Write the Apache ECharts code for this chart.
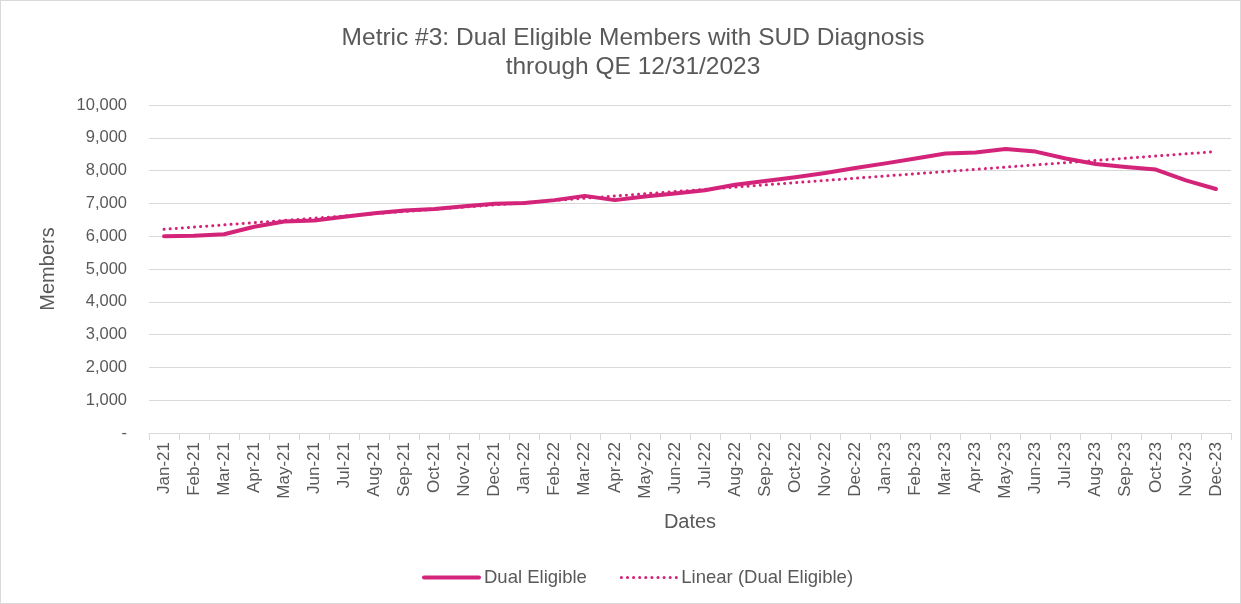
<!DOCTYPE html>
<html>
<head>
<meta charset="utf-8">
<script src="https://cdn.jsdelivr.net/npm/echarts@6/dist/echarts.min.js"></script>
<style>
    html, body { margin: 0; padding: 0; background: #fff; }
    #chart {
        width: 1241px;
        height: 604px;
        box-sizing: border-box;
        border: 1px solid #d9d9d9;
    }
</style>
</head>
<body>
<div id="chart"></div>
<script>
    // monthly member counts
    var months = ['Jan-21', 'Feb-21', 'Mar-21', 'Apr-21', 'May-21', 'Jun-21', 'Jul-21', 'Aug-21', 'Sep-21', 'Oct-21', 'Nov-21', 'Dec-21',
                  'Jan-22', 'Feb-22', 'Mar-22', 'Apr-22', 'May-22', 'Jun-22', 'Jul-22', 'Aug-22', 'Sep-22', 'Oct-22', 'Nov-22', 'Dec-22',
                  'Jan-23', 'Feb-23', 'Mar-23', 'Apr-23', 'May-23', 'Jun-23', 'Jul-23', 'Aug-23', 'Sep-23', 'Oct-23', 'Nov-23', 'Dec-23'];
    var dualEligible = [6000, 6010, 6060, 6290, 6450, 6480, 6590, 6700, 6780, 6830, 6910, 6990,
                        7010, 7100, 7230, 7100, 7210, 7300, 7400, 7570, 7680, 7800, 7930, 8080,
                        8220, 8370, 8520, 8550, 8660, 8580, 8370, 8200, 8110, 8030, 7700, 7440];
    // trendline ends (first and last month) as drawn in the picture
    var trendEnds = [6210, 8580];

    var trend = months.map(function (m, i) {
        if (i === 0) return trendEnds[0];
        if (i === months.length - 1) return trendEnds[1];
        return null;
    });

    var pink = '#d4247a';
    var grey = '#595959';

    var chart = echarts.init(document.getElementById('chart'));
    chart.setOption({
        animation: false,
        textStyle: { fontFamily: 'Liberation Sans, Arial, sans-serif' },
        title: {
            text: 'Metric #3: Dual Eligible Members with SUD Diagnosis\nthrough QE 12/31/2023',
            left: 627,
            textAlign: 'center',
            top: 18,
            textStyle: { fontSize: 24.5, fontWeight: 'normal', color: grey, lineHeight: 29 }
        },
        legend: {
            bottom: 11,
            left: 416,
            itemWidth: 55,
            itemHeight: 14,
            itemGap: 33,
            itemStyle: { opacity: 0 },
            textStyle: { fontSize: 18.5, color: grey },
            data: [
                { name: 'Dual Eligible', lineStyle: { width: 4 } },
                { name: 'Linear (Dual Eligible)', lineStyle: { width: 3 } }
            ]
        },
        grid: { left: 148, right: 9, top: 104, bottom: 170 },
        xAxis: {
            type: 'category',
            data: months,
            name: 'Dates',
            nameLocation: 'middle',
            nameGap: 79,
            nameTextStyle: { fontSize: 20, color: grey },
            axisLine: { lineStyle: { color: '#d9d9d9' } },
            axisTick: { show: true, length: 7, lineStyle: { color: '#d9d9d9' } },
            axisLabel: { rotate: 90, fontSize: 17, color: grey, margin: 9, interval: 0 }
        },
        yAxis: {
            type: 'value',
            min: 0,
            max: 10000,
            interval: 1000,
            name: 'Members',
            nameLocation: 'middle',
            nameGap: 91,
            nameTextStyle: { fontSize: 20, color: grey },
            axisLine: { show: false },
            axisTick: { show: false },
            splitLine: { lineStyle: { color: '#d9d9d9' } },
            axisLabel: {
                fontSize: 16.5, color: grey, margin: 22,
                formatter: function (v) { return v === 0 ? '-' : v.toLocaleString('en-US'); }
            }
        },
        series: [
            {
                name: 'Dual Eligible',
                type: 'line',
                data: dualEligible,
                symbol: 'none',
                lineStyle: { color: pink, width: 4, cap: 'round', join: 'round' },
                itemStyle: { color: pink }
            },
            {
                name: 'Linear (Dual Eligible)',
                type: 'line',
                data: trend,
                connectNulls: true,
                symbol: 'none',
                lineStyle: { color: pink, width: 3, type: [0.1, 6], cap: 'round' },
                itemStyle: { color: pink }
            }
        ]
    });
</script>
</body>
</html>
